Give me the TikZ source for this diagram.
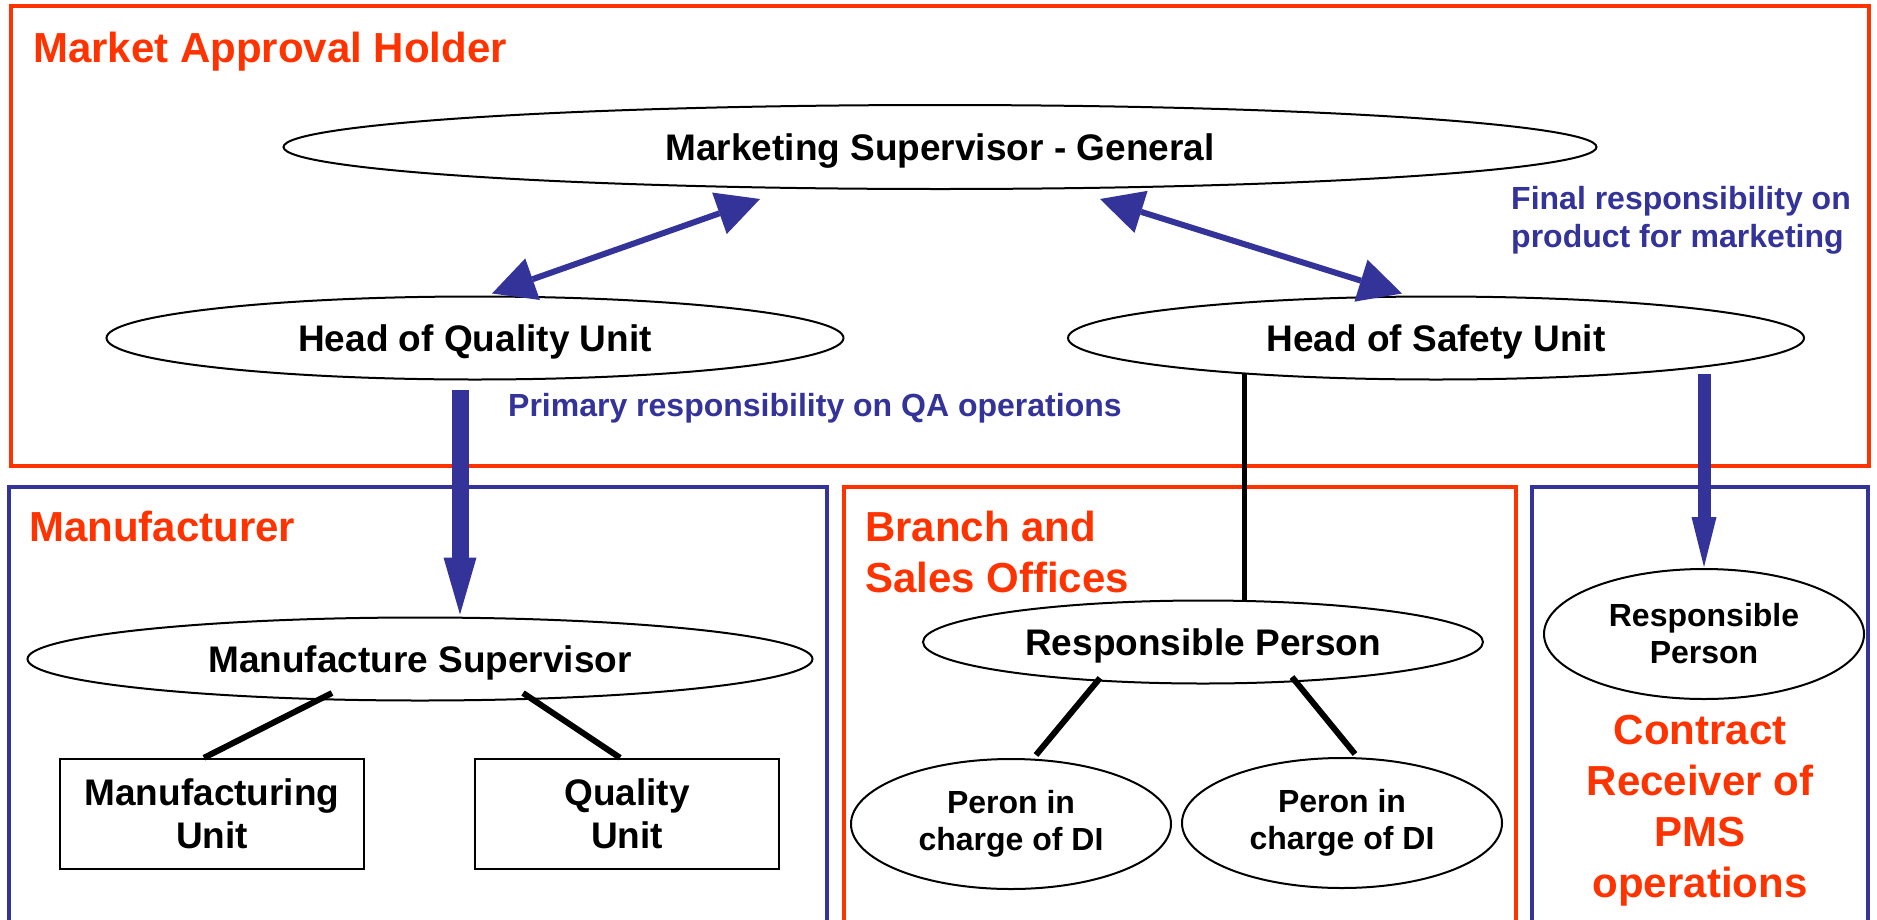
\documentclass[tikz,border=0pt]{standalone}
\usepackage{fontspec}
\setmainfont{Liberation Sans}
\usetikzlibrary{shapes.geometric,arrows.meta}
\definecolor{redtitle}{RGB}{255,51,0}
\definecolor{bluedark}{RGB}{51,51,153}
\begin{document}
\begin{tikzpicture}[x=1pt,y=-1pt,
  redframe/.style={draw=redtitle,line width=3.5pt},
  blueframe/.style={draw=bluedark,line width=3.5pt},
  oval/.style={draw,ellipse,line width=2pt,inner sep=0pt,align=center,font=\bfseries\fontsize{37}{44}\selectfont},
  smalloval/.style={oval,font=\bfseries\fontsize{32}{37}\selectfont},
  unitbox/.style={draw,rectangle,line width=2.5pt,inner sep=0pt,align=center,font=\bfseries\fontsize{37}{43}\selectfont,minimum width=304pt,minimum height=110pt},
  grouptitle/.style={text=redtitle,font=\bfseries\fontsize{42}{51}\selectfont,inner sep=0pt},
  bluelabel/.style={text=bluedark,font=\bfseries\fontsize{32}{38}\selectfont,inner sep=0pt,align=left},
  bigarrow/.style={draw=bluedark,line width=17pt,-{Triangle[length=57pt,width=33pt,line width=0pt]}},
  midarrow/.style={draw=bluedark,line width=13pt,-{Triangle[length=50pt,width=25pt,line width=0pt]}},
  biarrow/.style={draw=bluedark,line width=6pt,{Triangle[length=43pt,width=44pt,line width=0pt]}-{Triangle[length=43pt,width=44pt,line width=0pt]}},
  link/.style={draw=black,line width=6pt},
  thinlink/.style={draw=black,line width=5pt}
]
\useasboundingbox (0,0) rectangle (1877,919);
\clip (0,0) rectangle (1877,919);
\fill[white] (0,0) rectangle (1877,919);

% group frames
\draw[redframe] (11,6) rectangle (1869,466);
\draw[blueframe] (9,487) rectangle (827,940);
\draw[redframe] (844,487) rectangle (1516,940);
\draw[blueframe] (1532,487) rectangle (1868,940);

% group titles (base anchor = baseline of the last line)
\node[grouptitle,anchor=base west] (tmah) at (33,62) {Market Approval Holder};
\node[grouptitle,anchor=base west] (tman) at (29,541) {Manufacturer};
\node[grouptitle,anchor=base west,align=left] (tbso) at (865,592) {Branch and\\Sales Offices};
\node[grouptitle,anchor=base,align=center] (tcr) at (1700,897) {Contract\\Receiver of\\PMS\\operations};

% blue labels
\node[bluelabel,anchor=base west] (lqa) at (508,416) {Primary responsibility on QA operations};
\node[bluelabel,anchor=base west] (lfin) at (1511,247) {Final responsibility on\\product for marketing};

% nodes
\node[oval,minimum width=1313pt,minimum height=84pt,text depth=0pt] (msg) at (940,147) {Marketing Supervisor - General};
\path (msg.center) ++(0,-2) coordinate (msgC);
\node[oval,minimum width=737pt,minimum height=83pt,text depth=0pt] (hq) at (475,338) {Head of Quality Unit};
\node[oval,minimum width=736pt,minimum height=83pt,text depth=0pt] (hs) at (1436,338) {Head of Safety Unit};
\node[oval,minimum width=785pt,minimum height=83pt,text depth=0pt] (ms) at (420,659) {Manufacture Supervisor};
\node[oval,minimum width=560pt,minimum height=83pt,text depth=0pt] (rp) at (1203,642) {Responsible Person};
\node[smalloval,minimum width=320pt,minimum height=130pt] (pd1) at (1011,824) {Peron in\\charge of DI};
\node[smalloval,minimum width=320pt,minimum height=130pt] (pd2) at (1342,823) {Peron in\\charge of DI};
\node[smalloval,minimum width=320pt,minimum height=130pt] (rp2) at (1704,634) {Responsible\\Person};
\node[unitbox] (mu) at (212,814) {Manufacturing\\Unit};
\node[unitbox] (qu) at (627,814) {Quality\\Unit};

% connector end points
\coordinate (msgL) at (760,199);
\coordinate (msgR) at (1100,199);
\coordinate (hqS) at (460,390);
\coordinate (hsS) at (1704,374);
\coordinate (hsL) at (1244,373);
\coordinate (msL) at (332,693);
\coordinate (msR) at (523,693);
\coordinate (rpL) at (1100,678);
\coordinate (rpR) at (1292,677);

% connectors
\draw[biarrow] (msgL) -- ([xshift=17pt,yshift=2pt]hq.north);
\draw[biarrow] (msgR) -- ([xshift=-34pt,yshift=2pt]hs.north);
\draw[bigarrow] (hqS) -- ([xshift=40pt,yshift=2pt]ms.north);
\draw[midarrow] (hsS) -- ([yshift=1pt]rp2.north);
\draw[thinlink] (hsL) -- (hsL |- rp.north);
\draw[link] (msL) -- ([xshift=-8pt]mu.north);
\draw[link] (msR) -- ([xshift=-7pt]qu.north);
\draw[link] (rpL) -- ([xshift=25pt,yshift=3pt]pd1.north);
\draw[link] (rpR) -- ([xshift=13pt,yshift=3pt]pd2.north);
\end{tikzpicture}
\end{document}
